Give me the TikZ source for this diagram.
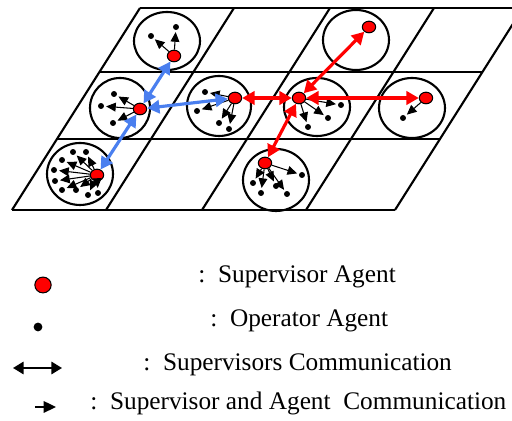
\documentclass[tikz,border=0pt]{standalone}
\usepackage{fontspec}
\setmainfont{Liberation Serif}
\usetikzlibrary{arrows.meta,shapes.geometric}
\definecolor{supred}{HTML}{FF0000}
\definecolor{commblue}{HTML}{4A7FEF}

\begin{document}
\begin{tikzpicture}[x=0.02cm, y=-0.02cm,
    gridline/.style={line width=1.2pt},
    zone/.style={line width=1.2pt},
    sup/.style={draw, ellipse, fill=supred, minimum width=7.6pt,
                minimum height=6.6pt, inner sep=0pt, line width=0.6pt},
    op/.style={circle, fill=black, minimum size=3.4pt, inner sep=0pt},
    supcomm/.style={{Triangle[length=7pt,width=7.5pt]}-{Triangle[length=7pt,width=7.5pt]},
                    line width=1.8pt},
    opcomm/.style={-{Triangle[length=5.5pt,width=5pt]}, line width=0.6pt,
                   shorten >=1pt},
    legend/.style={anchor=base west, inner sep=0pt,
                   font=\fontsize{14.4}{17}\selectfont},
]
\useasboundingbox (0,0) rectangle (512,421);
% grid
\begin{scope}
\clip (0,0) rectangle (512,421);
\foreach \x in {140,234,330,434,523}
  \draw[gridline] (\x,8) -- ++(-128,202);
\foreach \y in {8,72,139,210}
  \draw[gridline] ({140-0.634*(\y-8)},\y) -- ++(383,0);
\end{scope}

% zones
\foreach \cx/\cy/\rx/\ry in {167/41/33/29, 356/40/33/30, 120/108/30/30,
    219/106/32/30, 317/107/33/29, 412/108/33/30, 80/174/33/31, 276/180/33/31}
  \draw[zone] (\cx,\cy) ellipse [x radius=\rx, y radius=\ry];

% supervisors
\node[sup] (s11) at (174,56) {};
\node[sup] (s13) at (369,27) {};
\node[sup] (s21) at (140,109) {};
\node[sup] (s22) at (235,98) {};
\node[sup] (s23) at (299,98) {};
\node[sup] (s24) at (426,98) {};
\node[sup] (s31) at (97,175) {};
\node[sup] (s33) at (265,163) {};

% operators
\foreach[count=\i] \px/\py in {151/36,176/27}
  {\node[op] (o11-\i) at (\px,\py) {}; \draw[opcomm] (s11) -- (o11-\i);}
\foreach[count=\i] \px/\py in {114/94,101/106,113/123}
  {\node[op] (o21-\i) at (\px,\py) {}; \draw[opcomm] (s21) -- (o21-\i);}
\foreach[count=\i] \px/\py in {205/92,197/111,219/123,229/129}
  {\node[op] (o22-\i) at (\px,\py) {}; \draw[opcomm] (s22) -- (o22-\i);}
\foreach[count=\i] \px/\py in {341/105,328/118,308/127}
  {\node[op] (o23-\i) at (\px,\py) {}; \draw[opcomm] (s23) -- (o23-\i);}
\foreach[count=\i] \px/\py in {403/118}
  {\node[op] (o24-\i) at (\px,\py) {}; \draw[opcomm] (s24) -- (o24-\i);}
\foreach[count=\i] \px/\py in {73/152,86/152,62/160,54/170,55/181,62/190,
    76/190,88/195,98/193}
  {\node[op] (o31-\i) at (\px,\py) {}; \draw[opcomm] (s31) -- (o31-\i);}
\foreach[count=\i] \px/\py in {253/183,261/193,287/194,302/175,276/186}
  {\node[op] (o33-\i) at (\px,\py) {}; \draw[opcomm] (s33) -- (o33-\i);}

% supervisors communication
\draw[supcomm, commblue] (s11) -- (s21);
\draw[supcomm, commblue] (s21) -- (s22);
\draw[supcomm, commblue] (s21) -- (s31);
\draw[supcomm, supred] (s13) -- (s23);
\draw[supcomm, supred] (s22) -- (s23);
\draw[supcomm, supred] (s23) -- (s24);
\draw[supcomm, supred] (s23) -- (s33);

% legend
\node[sup, minimum width=9.3pt, minimum height=9pt] (lsup) at (43,285) {};
\node[op, minimum size=5pt] (lop) at (38,327) {};
\coordinate (lsc-a) at (13,368);
\coordinate (lsc-b) at (62,368);
\draw[{Triangle[length=6pt,width=7pt]}-{Triangle[length=6pt,width=7pt]},
      line width=1.1pt] (lsc-a) -- (lsc-b);
\coordinate (lac-a) at (35,407);
\coordinate (lac-b) at (56,407);
\draw[-{Triangle[length=7pt,width=6.5pt]}, line width=1.1pt] (lac-a) -- (lac-b);
\node[legend] (t1) at (198,283) {:\ \ Supervisor Agent};
\node[legend] (t2) at (210,327) {:\ \ Operator Agent};
\node[legend] (t3) at (143,371) {:\ \ Supervisors Communication};
\node[legend] (t4) at (90,410) {:\ \ Supervisor and Agent\ \ Communication};
\end{tikzpicture}
\end{document}
